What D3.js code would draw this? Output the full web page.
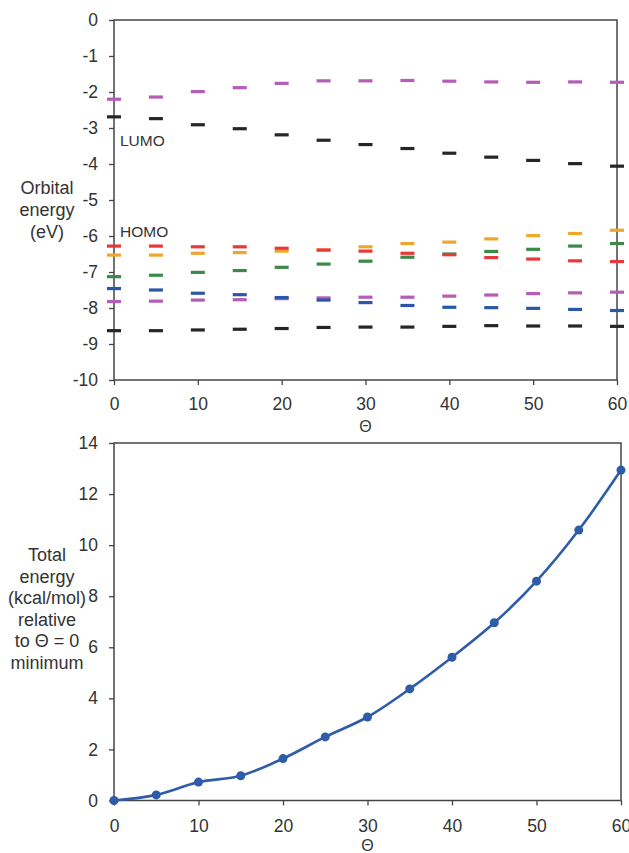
<!DOCTYPE html>
<html>
<head>
<meta charset="utf-8">
<script src="https://cdn.jsdelivr.net/npm/d3@7"></script>
<style>
  body { margin: 0; background: #fff; }
  svg { display: block; font-family: "Liberation Sans", Arial, sans-serif; }
  .axis text { font-size: 17.5px; fill: #333; }
  .axis line { stroke: #444; stroke-width: 1.3; }
  .axis path { display: none; }
</style>
</head>
<body>
<script>
// Angle Θ (degrees)
var theta = [0, 5, 10, 15, 20, 25, 30, 35, 40, 45, 50, 55, 60];

// Orbital energies (eV), top panel
var lumoPlus1 = [-2.20, -2.14, -1.99, -1.88, -1.76, -1.69, -1.69, -1.68, -1.70, -1.72, -1.73, -1.72, -1.73];
var lumo      = [-2.69, -2.74, -2.91, -3.02, -3.19, -3.34, -3.46, -3.57, -3.70, -3.81, -3.90, -3.99, -4.06];
var homo      = [-6.28, -6.28, -6.30, -6.30, -6.34, -6.39, -6.42, -6.48, -6.52, -6.60, -6.64, -6.69, -6.71];
var homo1     = [-6.53, -6.53, -6.48, -6.46, -6.42, -6.39, -6.30, -6.21, -6.17, -6.08, -5.99, -5.93, -5.84];
var homo2     = [-7.13, -7.09, -7.01, -6.96, -6.87, -6.78, -6.70, -6.59, -6.50, -6.43, -6.37, -6.28, -6.21];
var homo3     = [-7.46, -7.50, -7.59, -7.63, -7.71, -7.78, -7.85, -7.93, -7.98, -7.99, -8.01, -8.04, -8.07];
var homo4     = [-7.82, -7.81, -7.78, -7.77, -7.74, -7.72, -7.70, -7.70, -7.67, -7.64, -7.60, -7.58, -7.56];
var homo5     = [-8.63, -8.63, -8.61, -8.59, -8.57, -8.54, -8.53, -8.53, -8.51, -8.49, -8.50, -8.50, -8.51];

// Total energy (kcal/mol), bottom panel
var totalEnergy = [0, 0.22, 0.72, 0.97, 1.64, 2.49, 3.27, 4.37, 5.61, 6.96, 8.59, 10.59, 12.94];

var xTicks = [0, 10, 20, 30, 40, 50, 60];
var yTicksTop = [0, -1, -2, -3, -4, -5, -6, -7, -8, -9, -10];
var yTicksBottom = [0, 2, 4, 6, 8, 10, 12, 14];

var w = 629, h = 853;
var svg = d3.select("body").append("svg").attr("width", w).attr("height", h);

// plain hyphen minus like the original
var fmt = function(d) { return String(d); };

// ---------- top panel ----------
var x1 = d3.scaleLinear().domain([0, 60]).range([114, 617]);
var y1 = d3.scaleLinear().domain([-10, 0]).range([380, 20]);

var series = [
  {v: homo5, c: "#262626"},
  {v: lumo, c: "#262626"},
  {v: lumoPlus1, c: "#b45cb6"},
  {v: homo4, c: "#b45cb6"},
  {v: homo3, c: "#2b57a7"},
  {v: homo2, c: "#3b8a48"},
  {v: homo1, c: "#eea62c"},
  {v: homo, c: "#e6393b"}
];

var gTop = svg.append("g");

gTop.append("g")
  .attr("class", "axis")
  .attr("transform", "translate(" + x1(0) + ",0)")
  .call(d3.axisLeft(y1).tickValues(yTicksTop).tickFormat(fmt).tickSize(5).tickPadding(11).tickSizeOuter(0));

gTop.append("g")
  .attr("class", "axis")
  .attr("transform", "translate(0," + y1(-10) + ")")
  .call(d3.axisBottom(x1).tickValues(xTicks).tickFormat(fmt).tickSize(5).tickPadding(13).tickSizeOuter(0));

gTop.append("rect")
  .attr("x", x1(0)).attr("y", y1(0))
  .attr("width", x1(60) - x1(0)).attr("height", y1(-10) - y1(0))
  .attr("fill", "none").attr("stroke", "#444").attr("stroke-width", 1.5);

series.forEach(function(s) {
  gTop.selectAll(null)
    .data(theta.map(function(t, i) { return [t, s.v[i]]; }))
    .enter().append("line")
    .attr("x1", function(d) { return x1(d[0]) - 7; })
    .attr("x2", function(d) { return x1(d[0]) + 7; })
    .attr("y1", function(d) { return y1(d[1]); })
    .attr("y2", function(d) { return y1(d[1]); })
    .attr("stroke", s.c)
    .attr("stroke-width", 3.2);
});

gTop.append("text").attr("x", 120).attr("y", 146).text("LUMO")
  .attr("font-size", 15.5).attr("fill", "#333");
gTop.append("text").attr("x", 120).attr("y", 237).text("HOMO")
  .attr("font-size", 15.5).attr("fill", "#333");

var topLab = gTop.append("text").attr("text-anchor", "middle")
  .attr("font-size", 18).attr("fill", "#333");
["Orbital", "energy", "(eV)"].forEach(function(t, i) {
  topLab.append("tspan").attr("x", 47).attr("y", 194 + i * 22).text(t);
});
gTop.append("text").attr("x", x1(30)).attr("y", 432).attr("text-anchor", "middle")
  .attr("font-size", 16).attr("fill", "#333").text("Θ");

// ---------- bottom panel ----------
var x2 = d3.scaleLinear().domain([0, 60]).range([114, 621]);
var y2 = d3.scaleLinear().domain([0, 14]).range([800.5, 443]);

var gBot = svg.append("g");

gBot.append("g")
  .attr("class", "axis")
  .attr("transform", "translate(" + x2(0) + ",0)")
  .call(d3.axisLeft(y2).tickValues(yTicksBottom).tickFormat(fmt).tickSize(5).tickPadding(11).tickSizeOuter(0));

gBot.append("g")
  .attr("class", "axis")
  .attr("transform", "translate(0," + y2(0) + ")")
  .call(d3.axisBottom(x2).tickValues(xTicks).tickFormat(fmt).tickSize(5).tickPadding(14).tickSizeOuter(0));

gBot.append("rect")
  .attr("x", x2(0)).attr("y", y2(14))
  .attr("width", x2(60) - x2(0)).attr("height", y2(0) - y2(14))
  .attr("fill", "none").attr("stroke", "#444").attr("stroke-width", 1.5);

var pts = theta.map(function(t, i) { return [t, totalEnergy[i]]; });

gBot.append("path")
  .datum(pts)
  .attr("d", d3.line()
    .x(function(d) { return x2(d[0]); })
    .y(function(d) { return y2(d[1]); })
    .curve(d3.curveCatmullRom))
  .attr("fill", "none")
  .attr("stroke", "#2e5ca8")
  .attr("stroke-width", 2.6);

gBot.selectAll(".pt")
  .data(pts)
  .enter().append("circle")
  .attr("class", "pt")
  .attr("cx", function(d) { return x2(d[0]); })
  .attr("cy", function(d) { return y2(d[1]); })
  .attr("r", 4.5)
  .attr("fill", "#2e5ca8");

var botLab = gBot.append("text").attr("text-anchor", "middle")
  .attr("font-size", 18).attr("fill", "#333");
["Total", "energy", "(kcal/mol)", "relative", "to Θ = 0", "minimum"].forEach(function(t, i) {
  botLab.append("tspan").attr("x", 47).attr("y", 561 + i * 21.6).text(t);
});
gBot.append("text").attr("x", x2(30)).attr("y", 851).attr("text-anchor", "middle")
  .attr("font-size", 16).attr("fill", "#333").text("Θ");
</script>
</body>
</html>
